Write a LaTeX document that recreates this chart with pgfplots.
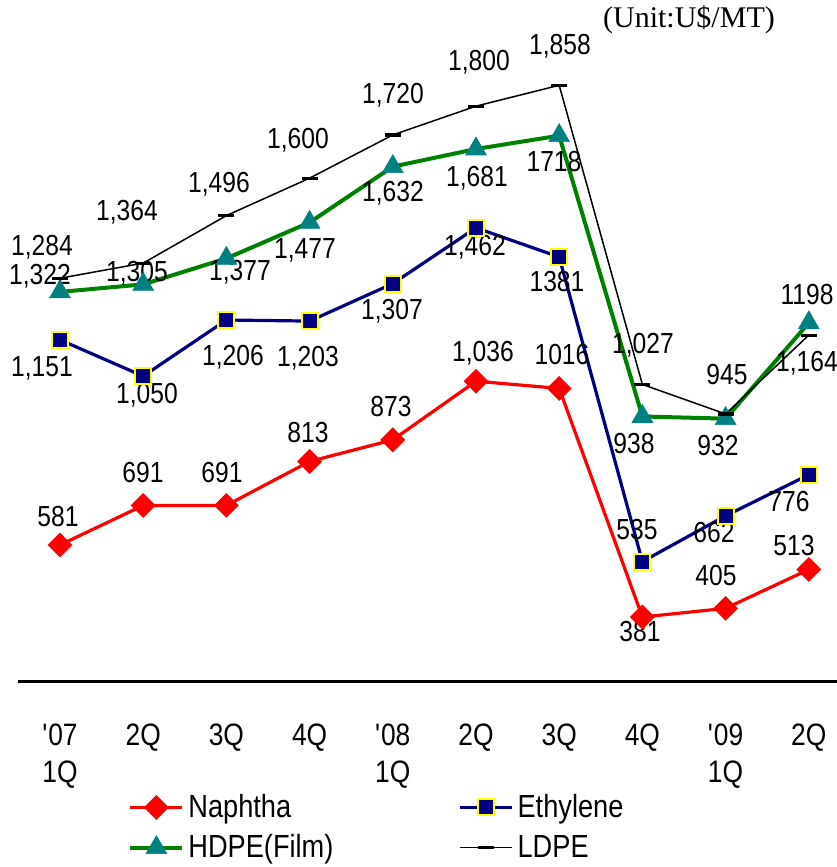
\documentclass[border=0pt]{standalone}
\usepackage{pgfplots}
\pgfplotsset{compat=1.18}
\usepackage{fontspec}
\setmainfont{Liberation Sans}[FakeStretch=0.85]
\newfontfamily\unitfont{Liberation Serif}

\definecolor{naphtha}{RGB}{255,0,0}
\definecolor{ethyl}{RGB}{0,0,128}
\definecolor{ethylrim}{RGB}{255,255,0}
\definecolor{hdpeline}{RGB}{0,128,0}
\definecolor{hdpemark}{RGB}{0,128,128}

% place a text at a position given in picture units (837 x 867 grid)
\newcommand{\lbl}[3]{\node[font=\fontsize{14.5}{16}\selectfont,inner sep=0pt] at (rel axis cs:{#1/837},{1-#2/867}) {#3};}

\begin{document}
\begin{tikzpicture}
\begin{axis}[
  scale only axis,
  width=418.5pt, height=433.5pt,
  xmin=-0.721, xmax=9.339,
  ymin=-313.4, ymax=2094.9,
  clip=false,
  axis line style={draw=none},
  ytick=\empty,
  xtick={0,...,9},
  xticklabels={{\textquotesingle07\\1Q},2Q,3Q,4Q,{\textquotesingle08\\1Q},2Q,3Q,4Q,{\textquotesingle09\\1Q},2Q},
  major tick length=0pt,
  xticklabel style={align=left, anchor=north, yshift=75pt,
    font=\fontsize{15.5}{18.5}\selectfont},
  legend columns=2,
  legend cell align=left,
  legend style={draw=none, fill=none, at={(rel axis cs:{122/837},{1-786/867})},
    anchor=north west, font=\fontsize{16}{18}\selectfont, row sep=3pt,
    /tikz/every even column/.append style={column sep=0pt}},
  legend image code/.code={\draw[mark repeat=2,mark phase=2] plot coordinates {(0pt,0pt) (13pt,0pt) (26pt,0pt)};},
]
% Naphtha
\addplot[color=naphtha, line width=1.6pt, mark=square*, mark size=3.6pt,
  mark options={rotate=45, solid, fill=naphtha, draw=naphtha}]
  coordinates {(0,581) (1,691) (2,691) (3,813) (4,873) (5,1036) (6,1016) (7,381) (8,405) (9,513)};
\addlegendentry{\makebox[133pt][l]{Naphtha}}
% Ethylene
\addplot[color=ethyl, line width=1.6pt, mark=square*, mark size=4pt,
  mark options={solid, fill=ethyl, draw=ethylrim, line width=1pt}]
  coordinates {(0,1151) (1,1050) (2,1206) (3,1203) (4,1307) (5,1462) (6,1381) (7,535) (8,662) (9,776)};
\addlegendentry{Ethylene}
% HDPE (Film)
\addplot[color=hdpeline, line width=2pt, mark=triangle*, mark size=6pt,
  mark options={solid, fill=hdpemark, draw=hdpemark, line width=0.3pt}]
  coordinates {(0,1284) (1,1305) (2,1377) (3,1477) (4,1632) (5,1681) (6,1718) (7,938) (8,932) (9,1198)};
\addlegendentry{\makebox[133pt][l]{HDPE(Film)}}
% LDPE
\addplot[color=black, line width=0.75pt, mark=-, mark size=4pt,
  mark options={solid, line width=1.6pt}]
  coordinates {(0,1322) (1,1364) (2,1496) (3,1600) (4,1720) (5,1800) (6,1858) (7,1027) (8,945) (9,1164)};
\addlegendentry{LDPE}

% baseline rule
\draw[line width=1.5pt] (axis cs:-0.505,203.2) -- (axis cs:9.339,203.2);

% value labels, LDPE
\lbl{42}{247}{1,284}
\lbl{127}{212}{1,364}
\lbl{219}{184}{1,496}
\lbl{298}{140}{1,600}
\lbl{393}{95}{1,720}
\lbl{479}{62}{1,800}
\lbl{560}{46}{1,858}
\lbl{643}{345}{1,027}
\lbl{727}{375}{945}
\lbl{807}{363}{1,164}
% HDPE
\lbl{40}{276}{1,322}
\lbl{137}{273}{1,305}
\lbl{240}{272}{1,377}
\lbl{305}{250}{1,477}
\lbl{393}{193}{1,632}
\lbl{477}{178}{1,681}
\lbl{554}{162}{1718}
\lbl{634}{444}{938}
\lbl{718}{446}{932}
\lbl{807}{295}{1198}
% Ethylene
\lbl{42}{368}{1,151}
\lbl{147}{395}{1,050}
\lbl{233}{357}{1,206}
\lbl{308}{358}{1,203}
\lbl{392}{311}{1,307}
\lbl{475}{247}{1,462}
\lbl{557}{282}{1381}
\lbl{637}{530}{535}
\lbl{714}{533}{662}
\lbl{789}{502}{776}
% Naphtha
\lbl{58}{517}{581}
\lbl{143}{473}{691}
\lbl{222}{473}{691}
\lbl{308}{433}{813}
\lbl{391}{407}{873}
\lbl{483}{353}{1,036}
\lbl{562}{355}{1016}
\lbl{640}{632}{381}
\lbl{716}{576}{405}
\lbl{794}{546}{513}

\node[font=\unitfont\fontsize{15}{18}\selectfont, inner sep=0pt] at (rel axis cs:{689/837},{1-20/867}) {(Unit:U\$/MT)};
\end{axis}
\pgfresetboundingbox
\path (current axis.south west) rectangle (current axis.north east);
\end{tikzpicture}
\end{document}
